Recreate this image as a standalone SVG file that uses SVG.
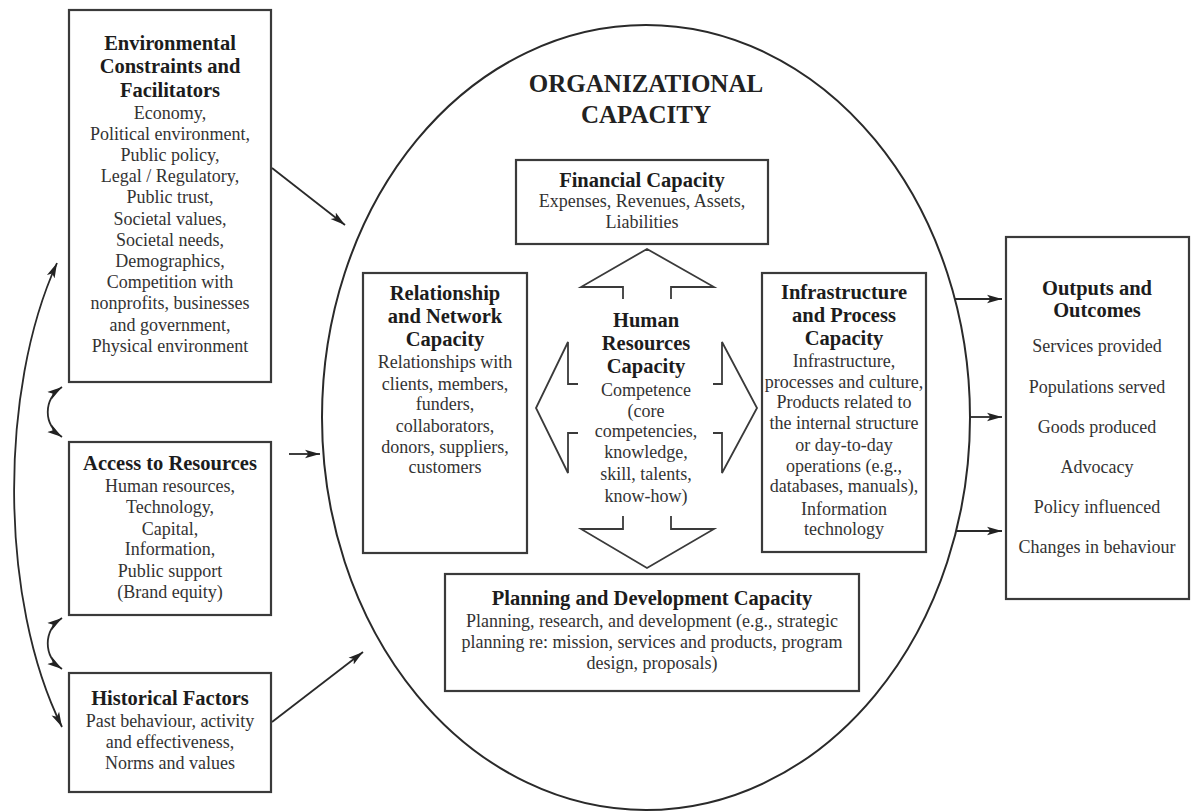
<svg xmlns="http://www.w3.org/2000/svg" width="1195" height="812" viewBox="0 0 1195 812">
<defs>
<marker id="ah" markerUnits="userSpaceOnUse" markerWidth="16" markerHeight="10" viewBox="0 0 16 10" refX="15" refY="5" orient="auto-start-reverse">
<path d="M0,0.8 L15,5 L0,9.2 L3.5,5 Z" fill="#222"/>
</marker>
<style>
.box{fill:#fff;stroke:#3a3a3a;stroke-width:2.2}
.h{font-family:"Liberation Serif",serif;font-weight:bold;font-size:20.5px;fill:#1c1c1c;text-anchor:middle}
.b{font-family:"Liberation Serif",serif;font-size:18px;fill:#333;text-anchor:middle}
.t{font-family:"Liberation Serif",serif;font-weight:bold;font-size:25px;fill:#222;text-anchor:middle}
.c{fill:none;stroke:#2a2a2a;stroke-width:1.8}
.blk{fill:none;stroke:#3a3a3a;stroke-width:1.8;stroke-linejoin:miter}
</style>
</defs>
<rect width="1195" height="812" fill="#fff"/>

<g id="org-capacity">
<ellipse cx="646" cy="417.5" rx="324" ry="392.5" fill="none" stroke="#2a2a2a" stroke-width="2"/>
<text class="t" x="646" y="92">ORGANIZATIONAL</text>
<text class="t" x="646" y="123">CAPACITY</text>
</g>

<g id="block-arrows">
<polyline class="blk" points="623,299 623,287 581,287 647,249 714,287 671,287 671,299"/>
<polyline class="blk" points="623,516 623,529 581,529 647,568 714,529 671,529 671,516"/>
<polyline class="blk" points="578,384 568,384 568,342 536,408 568,473 568,433 578,433"/>
<polyline class="blk" points="713,384 722,384 722,342 757,408 722,473 722,433 713,433"/>
</g>

<g id="connectors">
<line class="c" x1="272" y1="168" x2="345" y2="225" marker-end="url(#ah)"/>
<line class="c" x1="289" y1="454" x2="320" y2="454" marker-end="url(#ah)"/>
<line class="c" x1="272" y1="722" x2="363" y2="652" marker-end="url(#ah)"/>
<line class="c" x1="955" y1="299" x2="1002" y2="299" marker-end="url(#ah)"/>
<line class="c" x1="970" y1="417" x2="1002" y2="417" marker-end="url(#ah)"/>
<line class="c" x1="957" y1="531" x2="1002" y2="531" marker-end="url(#ah)"/>
<path class="c" d="M62,387 C43,400 43,424 62,437" marker-start="url(#ah)" marker-end="url(#ah)"/>
<path class="c" d="M62,618 C43,631 43,656 62,669" marker-start="url(#ah)" marker-end="url(#ah)"/>
<path class="c" d="M57,263 C-1,390 -1,600 62,727" marker-start="url(#ah)" marker-end="url(#ah)"/>
</g>

<g id="env">
<rect class="box" x="69" y="10" width="202" height="372"/>
<text class="h" x="170" y="50">Environmental</text>
<text class="h" x="170" y="73">Constraints and</text>
<text class="h" x="170" y="97">Facilitators</text>
<text class="b" x="170" y="119">Economy,</text>
<text class="b" x="170" y="140">Political environment,</text>
<text class="b" x="170" y="161">Public policy,</text>
<text class="b" x="170" y="182">Legal / Regulatory,</text>
<text class="b" x="170" y="203">Public trust,</text>
<text class="b" x="170" y="225">Societal values,</text>
<text class="b" x="170" y="246">Societal needs,</text>
<text class="b" x="170" y="267">Demographics,</text>
<text class="b" x="170" y="288">Competition with</text>
<text class="b" x="170" y="309">nonprofits, businesses</text>
<text class="b" x="170" y="331">and government,</text>
<text class="b" x="170" y="352">Physical environment</text>
</g>

<g id="access">
<rect class="box" x="69" y="442" width="202" height="173"/>
<text class="h" x="170" y="470">Access to Resources</text>
<text class="b" x="170" y="492">Human resources,</text>
<text class="b" x="170" y="513">Technology,</text>
<text class="b" x="170" y="535">Capital,</text>
<text class="b" x="170" y="555">Information,</text>
<text class="b" x="170" y="577">Public support</text>
<text class="b" x="170" y="598">(Brand equity)</text>
</g>

<g id="historical">
<rect class="box" x="69" y="673" width="202" height="119"/>
<text class="h" x="170" y="705">Historical Factors</text>
<text class="b" x="170" y="727">Past behaviour, activity</text>
<text class="b" x="170" y="748">and effectiveness,</text>
<text class="b" x="170" y="769">Norms and values</text>
</g>

<g id="financial">
<rect class="box" x="516" y="160" width="252" height="84"/>
<text class="h" x="642" y="187">Financial Capacity</text>
<text class="b" x="642" y="207">Expenses, Revenues, Assets,</text>
<text class="b" x="642" y="228">Liabilities</text>
</g>

<g id="relationship">
<rect class="box" x="363" y="273" width="164" height="280"/>
<text class="h" x="445" y="300">Relationship</text>
<text class="h" x="445" y="323">and Network</text>
<text class="h" x="445" y="346">Capacity</text>
<text class="b" x="445" y="368">Relationships with</text>
<text class="b" x="445" y="390">clients, members,</text>
<text class="b" x="445" y="410">funders,</text>
<text class="b" x="445" y="432">collaborators,</text>
<text class="b" x="445" y="453">donors, suppliers,</text>
<text class="b" x="445" y="473">customers</text>
</g>

<g id="human">
<text class="h" x="646" y="327">Human</text>
<text class="h" x="646" y="350">Resources</text>
<text class="h" x="646" y="373">Capacity</text>
<text class="b" x="646" y="396">Competence</text>
<text class="b" x="646" y="417">(core</text>
<text class="b" x="646" y="437">competencies,</text>
<text class="b" x="646" y="458">knowledge,</text>
<text class="b" x="646" y="480">skill, talents,</text>
<text class="b" x="646" y="502">know-how)</text>
</g>

<g id="infrastructure">
<rect class="box" x="762" y="273" width="164" height="279"/>
<text class="h" x="844" y="299">Infrastructure</text>
<text class="h" x="844" y="322">and Process</text>
<text class="h" x="844" y="345">Capacity</text>
<text class="b" x="844" y="367">Infrastructure,</text>
<text class="b" x="844" y="388">processes and culture,</text>
<text class="b" x="844" y="408">Products related to</text>
<text class="b" x="844" y="429">the internal structure</text>
<text class="b" x="844" y="451">or day-to-day</text>
<text class="b" x="844" y="472">operations (e.g.,</text>
<text class="b" x="844" y="492">databases, manuals),</text>
<text class="b" x="844" y="515">Information</text>
<text class="b" x="844" y="535">technology</text>
</g>

<g id="planning">
<rect class="box" x="445" y="574" width="414" height="117"/>
<text class="h" x="652" y="605">Planning and Development Capacity</text>
<text class="b" x="652" y="627">Planning, research, and development (e.g., strategic</text>
<text class="b" x="652" y="648">planning re: mission, services and products, program</text>
<text class="b" x="652" y="669">design, proposals)</text>
</g>

<g id="outputs">
<rect class="box" x="1006" y="237" width="183" height="362"/>
<text class="h" x="1097" y="295">Outputs and</text>
<text class="h" x="1097" y="317">Outcomes</text>
<text class="b" x="1097" y="352">Services provided</text>
<text class="b" x="1097" y="393">Populations served</text>
<text class="b" x="1097" y="433">Goods produced</text>
<text class="b" x="1097" y="473">Advocacy</text>
<text class="b" x="1097" y="513">Policy influenced</text>
<text class="b" x="1097" y="553">Changes in behaviour</text>
</g>
</svg>
